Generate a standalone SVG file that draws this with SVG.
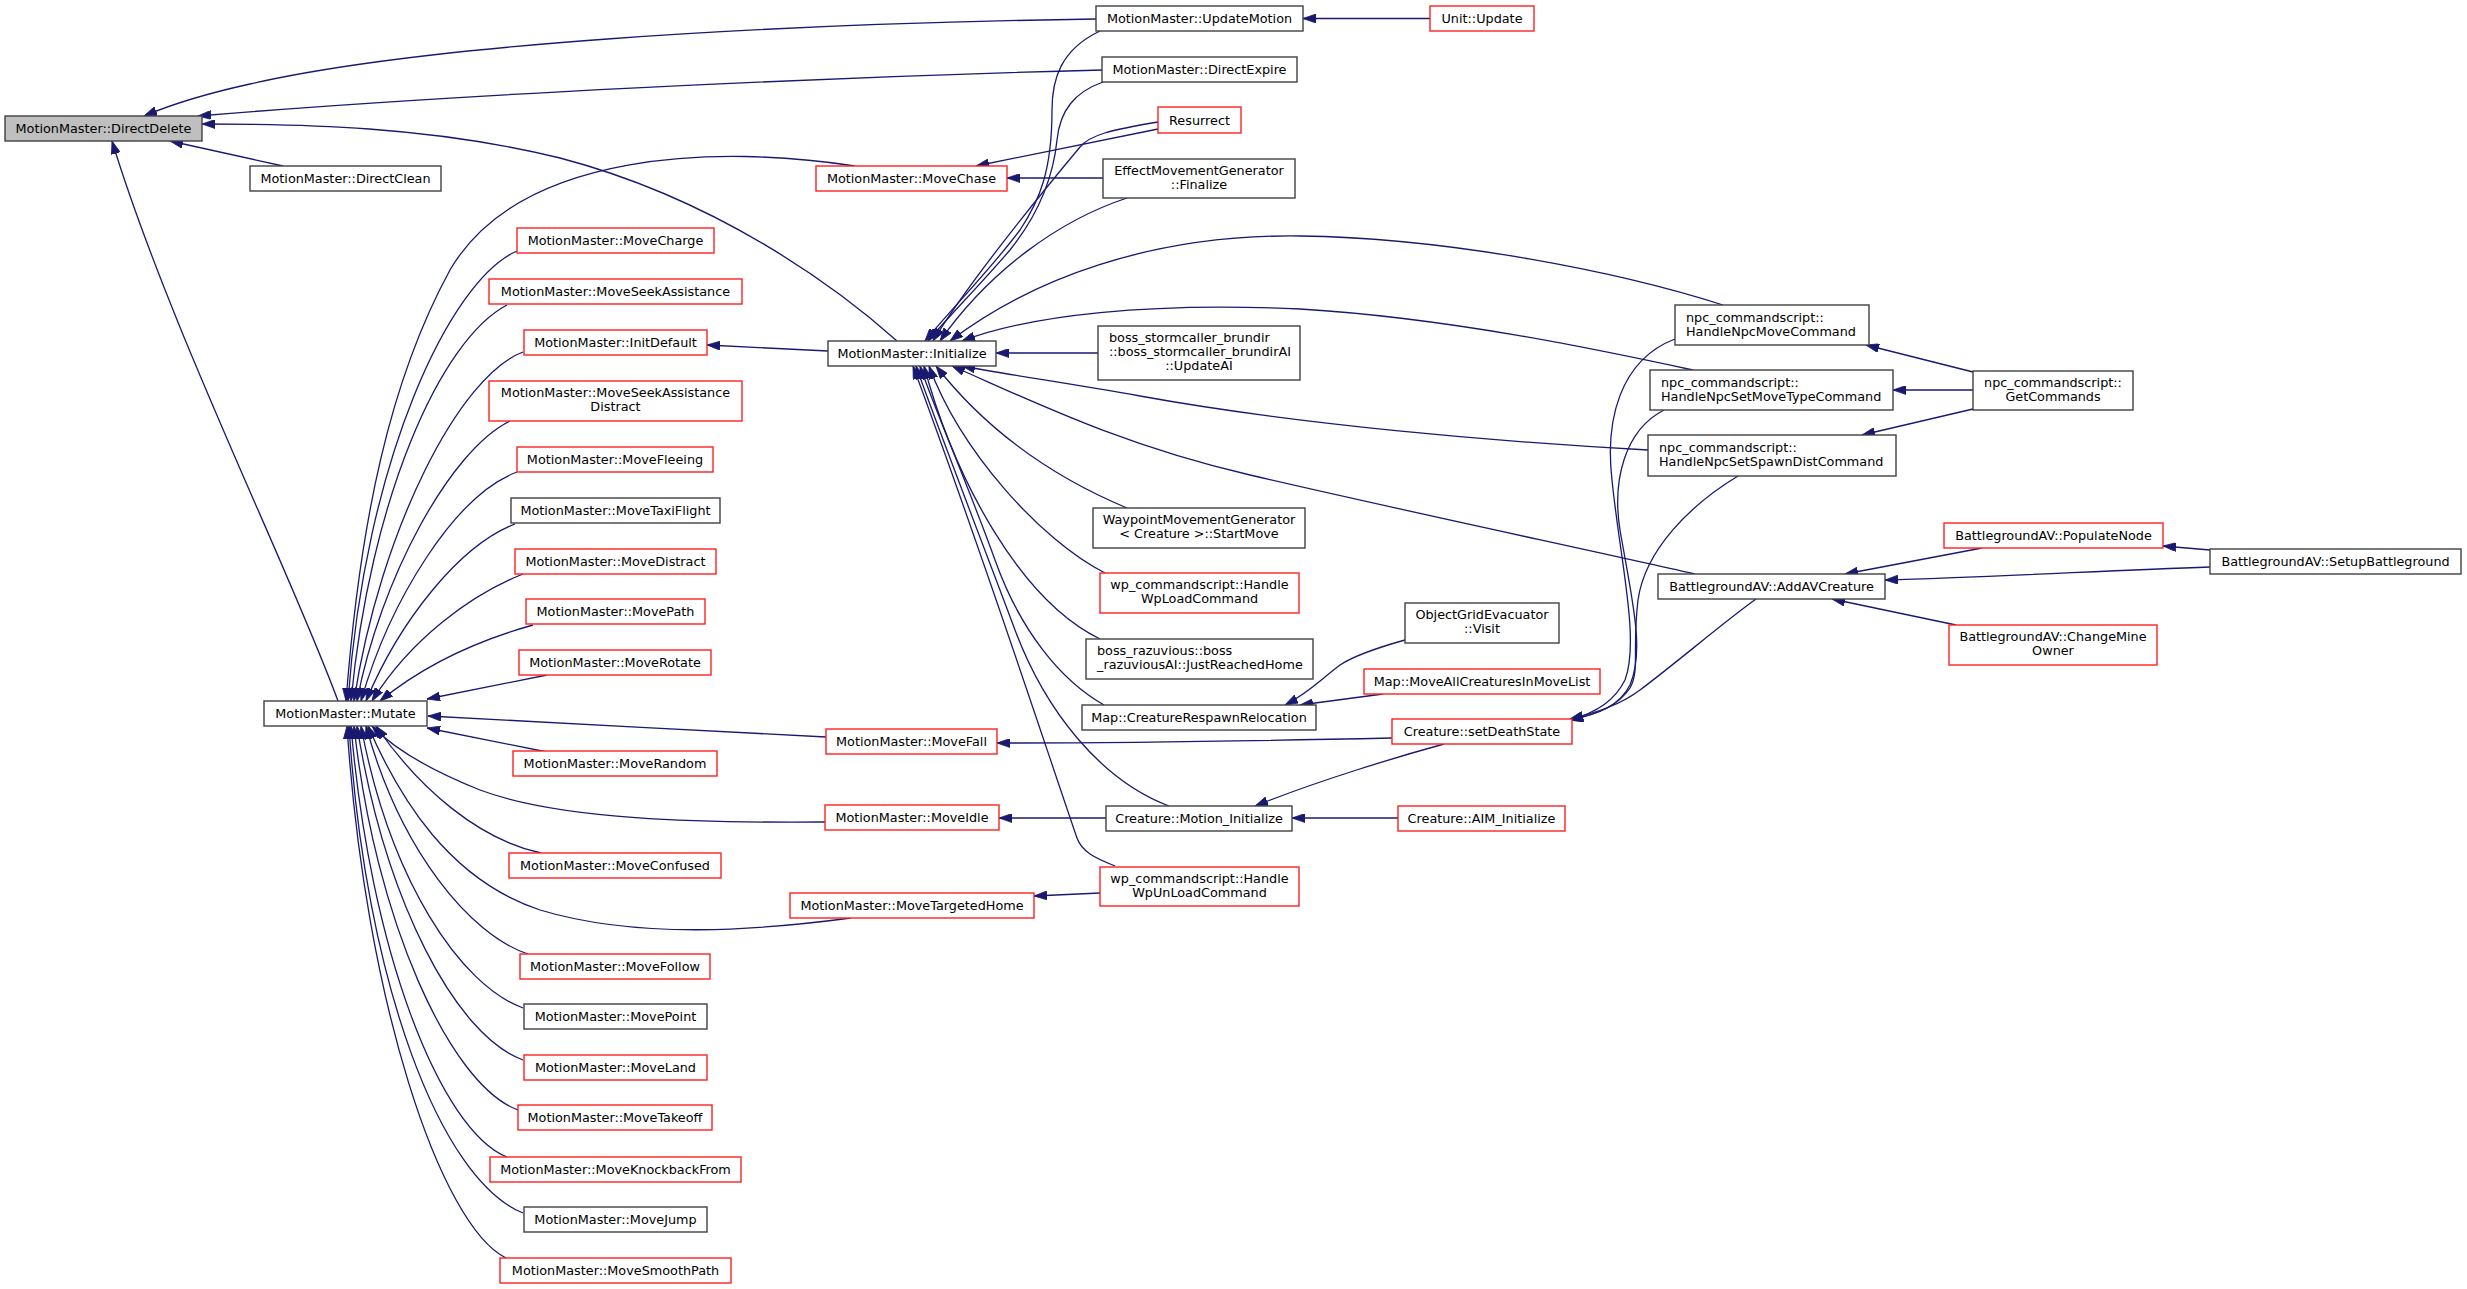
<svg xmlns="http://www.w3.org/2000/svg" width="2467" height="1289" viewBox="0 0 2467 1289">
<style>
.n rect{fill:#ffffff;stroke:#404040;stroke-width:1.4}
.n.r rect{stroke:#ff2020}
.n.g rect{fill:#bfbfbf}
.n text{font-family:"DejaVu Sans",Verdana,sans-serif;font-size:12.8px;fill:#000000}
.m{text-anchor:middle}
.e path{fill:none;stroke:#191970;stroke-width:1.3}
</style>
<defs>
<marker id="a" markerWidth="13" markerHeight="9" refX="13" refY="4.5" orient="auto" markerUnits="userSpaceOnUse">
<path d="M0,0 L13,4.5 L0,9 z" fill="#191970" stroke="#191970" stroke-width="0.8"/>
</marker>
</defs>
<rect x="0" y="0" width="2467" height="1289" fill="#ffffff"/>
<g id="edges" class="e" marker-end="url(#a)">
<path d="M1096,19 C760,24 420,45 250,84 C200,95 170,105 144,116" marker-end="url(#a)"/>
<path d="M1102,70 C800,78 450,95 198,116" marker-end="url(#a)"/>
<path d="M897,341 C840,290 720,200 560,158 C430,126 300,124 202,124" marker-end="url(#a)"/>
<path d="M283,166 L170,141" marker-end="url(#a)"/>
<path d="M338,701 C290,570 170,330 112,141" marker-end="url(#a)"/>
<path d="M1430,18.5 L1303,18.5" marker-end="url(#a)"/>
<path d="M1158,129 L976,166" marker-end="url(#a)"/>
<path d="M1158,122 C1110,130 1090,135 1080,147 C1040,195 970,280 933,341" marker-end="url(#a)"/>
<path d="M1100,31 C1060,50 1052,80 1052,110 C1052,170 1040,200 1020,230 C990,270 955,305 925,341" marker-end="url(#a)"/>
<path d="M1103,82 C1075,92 1060,110 1057,140 C1052,190 1030,225 1010,250 C980,285 950,315 928,341" marker-end="url(#a)"/>
<path d="M1103,178 L1007,178" marker-end="url(#a)"/>
<path d="M1127,198 C1060,220 990,270 940,341" marker-end="url(#a)"/>
<path d="M1723,305 C1620,272 1450,238 1300,236 C1150,234 1030,280 950,341" marker-end="url(#a)"/>
<path d="M1693,370 C1600,350 1450,318 1300,309 C1150,302 1030,315 962,341" marker-end="url(#a)"/>
<path d="M1098,353 L996,353" marker-end="url(#a)"/>
<path d="M1648,450 C1500,442 1300,425 1140,396 C1060,382 1010,375 962,366" marker-end="url(#a)"/>
<path d="M1695,574 C1580,548 1400,510 1250,475 C1120,445 1030,400 952,366" marker-end="url(#a)"/>
<path d="M1127,508 C1060,480 990,435 936,366" marker-end="url(#a)"/>
<path d="M1105,573 C1040,540 960,450 929,366" marker-end="url(#a)"/>
<path d="M1100,639 C1020,600 955,480 924,366" marker-end="url(#a)"/>
<path d="M1104,705 C1060,680 1020,630 995,560 C970,490 935,410 920,366" marker-end="url(#a)"/>
<path d="M1169,806 C1100,780 1045,710 1015,630 C985,550 935,420 916,366" marker-end="url(#a)"/>
<path d="M1115,866 C1095,858 1082,852 1077,838 C1050,760 985,560 913,366" marker-end="url(#a)"/>
<path d="M828,351 L707,345" marker-end="url(#a)"/>
<path d="M855,166 C720,145 520,150 450,270 C390,380 360,520 346,701" marker-end="url(#a)"/>
<path d="M517,251 C450,280 365,460 348,701" marker-end="url(#a)"/>
<path d="M507,305 C440,340 370,500 351,701" marker-end="url(#a)"/>
<path d="M523,352 C460,375 380,530 354,701" marker-end="url(#a)"/>
<path d="M510,421 C450,450 380,580 357,701" marker-end="url(#a)"/>
<path d="M517,472 C455,495 390,600 361,701" marker-end="url(#a)"/>
<path d="M515,524 C460,545 400,620 366,701" marker-end="url(#a)"/>
<path d="M523,574 C470,595 410,640 372,701" marker-end="url(#a)"/>
<path d="M533,625 C490,637 430,660 380,701" marker-end="url(#a)"/>
<path d="M547,675 L427,699" marker-end="url(#a)"/>
<path d="M826,737 C700,731 550,722 428,716" marker-end="url(#a)"/>
<path d="M547,752 L427,728" marker-end="url(#a)"/>
<path d="M825,822 C700,823 560,820 480,790 C430,770 395,750 372,726" marker-end="url(#a)"/>
<path d="M851,918 C760,930 640,940 540,910 C450,880 400,800 368,726" marker-end="url(#a)"/>
<path d="M541,853 C480,840 420,790 376,726" marker-end="url(#a)"/>
<path d="M528,954 C470,935 400,850 366,726" marker-end="url(#a)"/>
<path d="M523,1008 C460,985 390,880 361,726" marker-end="url(#a)"/>
<path d="M523,1060 C455,1035 385,900 357,726" marker-end="url(#a)"/>
<path d="M518,1110 C450,1085 375,920 354,726" marker-end="url(#a)"/>
<path d="M507,1157 C440,1130 370,950 351,726" marker-end="url(#a)"/>
<path d="M523,1213 C440,1180 365,980 349,726" marker-end="url(#a)"/>
<path d="M506,1258 C440,1225 365,1000 347,726" marker-end="url(#a)"/>
<path d="M1383,694 L1300,705" marker-end="url(#a)"/>
<path d="M1405,640 C1380,647 1355,655 1340,665 C1320,680 1310,692 1285,705" marker-end="url(#a)"/>
<path d="M1392,738 C1250,741 1100,743 997,743" marker-end="url(#a)"/>
<path d="M1444,744 C1400,756 1320,780 1255,806" marker-end="url(#a)"/>
<path d="M1398,818 L1292,818" marker-end="url(#a)"/>
<path d="M1106,818 L999,818" marker-end="url(#a)"/>
<path d="M1100,893 L1034,896" marker-end="url(#a)"/>
<path d="M1973,372 L1866,345" marker-end="url(#a)"/>
<path d="M1973,390 L1893,390" marker-end="url(#a)"/>
<path d="M1973,409 L1862,435" marker-end="url(#a)"/>
<path d="M1982,548 L1845,574" marker-end="url(#a)"/>
<path d="M2210,567 C2100,571 1990,577 1885,580" marker-end="url(#a)"/>
<path d="M2210,550 L2163,546" marker-end="url(#a)"/>
<path d="M1956,625 L1832,599" marker-end="url(#a)"/>
<path d="M1675,339 C1620,360 1605,420 1612,480 C1620,560 1640,640 1625,680 C1615,700 1598,712 1570,720" marker-end="url(#a)"/>
<path d="M1664,410 C1625,430 1612,480 1620,530 C1632,600 1645,650 1630,685 C1620,705 1600,714 1570,720" marker-end="url(#a)"/>
<path d="M1738,476 C1690,505 1645,550 1638,600 C1632,650 1640,670 1630,688 C1618,706 1598,714 1570,720" marker-end="url(#a)"/>
<path d="M1756,599 C1720,625 1680,660 1640,690 C1620,705 1598,712 1570,719" marker-end="url(#a)"/>
</g>
<g id="n_DirectDelete" class="n g"><rect x="5" y="116" width="197" height="25"/><text class="m" x="103.5" y="133">MotionMaster::DirectDelete</text></g>
<g id="n_DirectClean" class="n"><rect x="250" y="166" width="191" height="25"/><text class="m" x="345.5" y="183">MotionMaster::DirectClean</text></g>
<g id="n_Mutate" class="n"><rect x="264" y="701" width="163" height="25"/><text class="m" x="345.5" y="718">MotionMaster::Mutate</text></g>
<g id="n_MoveCharge" class="n r"><rect x="517" y="228" width="197" height="25"/><text class="m" x="615.5" y="245">MotionMaster::MoveCharge</text></g>
<g id="n_MoveSeekAssistance" class="n r"><rect x="489" y="279" width="253" height="25"/><text class="m" x="615.5" y="296">MotionMaster::MoveSeekAssistance</text></g>
<g id="n_InitDefault" class="n r"><rect x="524" y="330" width="183" height="25"/><text class="m" x="615.5" y="347">MotionMaster::InitDefault</text></g>
<g id="n_MoveSeekAssistanceDistract" class="n r"><rect x="489" y="381" width="253" height="40"/><text class="m" x="615.5" y="397">MotionMaster::MoveSeekAssistance</text><text class="m" x="615.5" y="411">Distract</text></g>
<g id="n_MoveFleeing" class="n r"><rect x="517" y="447" width="196" height="25"/><text class="m" x="615" y="464">MotionMaster::MoveFleeing</text></g>
<g id="n_MoveTaxiFlight" class="n"><rect x="511" y="498" width="209" height="25"/><text class="m" x="615.5" y="515">MotionMaster::MoveTaxiFlight</text></g>
<g id="n_MoveDistract" class="n r"><rect x="515" y="549" width="201" height="25"/><text class="m" x="615.5" y="566">MotionMaster::MoveDistract</text></g>
<g id="n_MovePath" class="n r"><rect x="526" y="599" width="179" height="25"/><text class="m" x="615.5" y="616">MotionMaster::MovePath</text></g>
<g id="n_MoveRotate" class="n r"><rect x="519" y="650" width="192" height="25"/><text class="m" x="615" y="667">MotionMaster::MoveRotate</text></g>
<g id="n_MoveRandom" class="n r"><rect x="513" y="751" width="204" height="25"/><text class="m" x="615" y="768">MotionMaster::MoveRandom</text></g>
<g id="n_MoveConfused" class="n r"><rect x="509" y="853" width="212" height="25"/><text class="m" x="615" y="870">MotionMaster::MoveConfused</text></g>
<g id="n_MoveFollow" class="n r"><rect x="520" y="954" width="190" height="25"/><text class="m" x="615" y="971">MotionMaster::MoveFollow</text></g>
<g id="n_MovePoint" class="n"><rect x="524" y="1004" width="183" height="25"/><text class="m" x="615.5" y="1021">MotionMaster::MovePoint</text></g>
<g id="n_MoveLand" class="n r"><rect x="524" y="1055" width="183" height="25"/><text class="m" x="615.5" y="1072">MotionMaster::MoveLand</text></g>
<g id="n_MoveTakeoff" class="n r"><rect x="518" y="1105" width="194" height="25"/><text class="m" x="615" y="1122">MotionMaster::MoveTakeoff</text></g>
<g id="n_MoveKnockbackFrom" class="n r"><rect x="490" y="1157" width="251" height="25"/><text class="m" x="615.5" y="1174">MotionMaster::MoveKnockbackFrom</text></g>
<g id="n_MoveJump" class="n"><rect x="524" y="1207" width="183" height="25"/><text class="m" x="615.5" y="1224">MotionMaster::MoveJump</text></g>
<g id="n_MoveSmoothPath" class="n r"><rect x="500" y="1258" width="231" height="25"/><text class="m" x="615.5" y="1275">MotionMaster::MoveSmoothPath</text></g>
<g id="n_MoveChase" class="n r"><rect x="816" y="166" width="191" height="25"/><text class="m" x="911.5" y="183">MotionMaster::MoveChase</text></g>
<g id="n_Initialize" class="n"><rect x="828" y="341" width="168" height="25"/><text class="m" x="912" y="358">MotionMaster::Initialize</text></g>
<g id="n_MoveFall" class="n r"><rect x="826" y="729" width="171" height="25"/><text class="m" x="911.5" y="746">MotionMaster::MoveFall</text></g>
<g id="n_MoveIdle" class="n r"><rect x="825" y="805" width="174" height="25"/><text class="m" x="912" y="822">MotionMaster::MoveIdle</text></g>
<g id="n_MoveTargetedHome" class="n r"><rect x="790" y="893" width="244" height="25"/><text class="m" x="912" y="910">MotionMaster::MoveTargetedHome</text></g>
<g id="n_UpdateMotion" class="n"><rect x="1096" y="6" width="207" height="25"/><text class="m" x="1199.5" y="23">MotionMaster::UpdateMotion</text></g>
<g id="n_DirectExpire" class="n"><rect x="1102" y="57" width="195" height="25"/><text class="m" x="1199.5" y="74">MotionMaster::DirectExpire</text></g>
<g id="n_Resurrect" class="n r"><rect x="1158" y="107" width="83" height="26"/><text class="m" x="1199.5" y="124.5">Resurrect</text></g>
<g id="n_Finalize" class="n"><rect x="1103" y="159" width="192" height="39"/><text class="m" x="1199" y="175">EffectMovementGenerator</text><text class="m" x="1199" y="189">::Finalize</text></g>
<g id="n_UpdateAI" class="n"><rect x="1098" y="326" width="202" height="54"/><text x="1109" y="342">boss_stormcaller_brundir</text><text x="1109" y="356">::boss_stormcaller_brundirAI</text><text class="m" x="1199" y="370">::UpdateAI</text></g>
<g id="n_StartMove" class="n"><rect x="1093" y="508" width="212" height="40"/><text class="m" x="1199" y="524">WaypointMovementGenerator</text><text class="m" x="1199" y="538">&lt; Creature &gt;::StartMove</text></g>
<g id="n_WpLoad" class="n r"><rect x="1100" y="573" width="199" height="40"/><text class="m" x="1199.5" y="589">wp_commandscript::Handle</text><text class="m" x="1199.5" y="603">WpLoadCommand</text></g>
<g id="n_JustReachedHome" class="n"><rect x="1086" y="639" width="227" height="40"/><text x="1097" y="655">boss_razuvious::boss</text><text x="1097" y="669">_razuviousAI::JustReachedHome</text></g>
<g id="n_CreatureRespawnRelocation" class="n"><rect x="1082" y="705" width="234" height="25"/><text class="m" x="1199" y="722">Map::CreatureRespawnRelocation</text></g>
<g id="n_Motion_Initialize" class="n"><rect x="1106" y="806" width="186" height="25"/><text class="m" x="1199" y="823">Creature::Motion_Initialize</text></g>
<g id="n_WpUnLoad" class="n r"><rect x="1100" y="867" width="199" height="39"/><text class="m" x="1199.5" y="883">wp_commandscript::Handle</text><text class="m" x="1199.5" y="897">WpUnLoadCommand</text></g>
<g id="n_UnitUpdate" class="n r"><rect x="1430" y="6" width="104" height="25"/><text class="m" x="1482" y="23">Unit::Update</text></g>
<g id="n_Visit" class="n"><rect x="1405" y="603" width="154" height="40"/><text class="m" x="1482" y="619">ObjectGridEvacuator</text><text class="m" x="1482" y="633">::Visit</text></g>
<g id="n_MoveAllCreaturesInMoveList" class="n r"><rect x="1364" y="669" width="236" height="25"/><text class="m" x="1482" y="686">Map::MoveAllCreaturesInMoveList</text></g>
<g id="n_setDeathState" class="n r"><rect x="1392" y="719" width="180" height="25"/><text class="m" x="1482" y="736">Creature::setDeathState</text></g>
<g id="n_AIM_Initialize" class="n r"><rect x="1398" y="806" width="167" height="25"/><text class="m" x="1481.5" y="823">Creature::AIM_Initialize</text></g>
<g id="n_HandleNpcMoveCommand" class="n"><rect x="1675" y="305" width="194" height="40"/><text x="1686" y="321.5">npc_commandscript::</text><text x="1686" y="335.5">HandleNpcMoveCommand</text></g>
<g id="n_HandleNpcSetMoveTypeCommand" class="n"><rect x="1650" y="370" width="243" height="40"/><text x="1661" y="386.5">npc_commandscript::</text><text x="1661" y="400.5">HandleNpcSetMoveTypeCommand</text></g>
<g id="n_HandleNpcSetSpawnDistCommand" class="n"><rect x="1648" y="435" width="248" height="41"/><text x="1659" y="451.5">npc_commandscript::</text><text x="1659" y="465.5">HandleNpcSetSpawnDistCommand</text></g>
<g id="n_AddAVCreature" class="n"><rect x="1658" y="574" width="227" height="25"/><text class="m" x="1771.5" y="591">BattlegroundAV::AddAVCreature</text></g>
<g id="n_GetCommands" class="n"><rect x="1973" y="371" width="160" height="39"/><text class="m" x="2053" y="387">npc_commandscript::</text><text class="m" x="2053" y="401">GetCommands</text></g>
<g id="n_PopulateNode" class="n r"><rect x="1944" y="523" width="219" height="25"/><text class="m" x="2053.5" y="540">BattlegroundAV::PopulateNode</text></g>
<g id="n_ChangeMineOwner" class="n r"><rect x="1949" y="625" width="208" height="40"/><text class="m" x="2053" y="641">BattlegroundAV::ChangeMine</text><text class="m" x="2053" y="655">Owner</text></g>
<g id="n_SetupBattleground" class="n"><rect x="2210" y="549" width="251" height="25"/><text class="m" x="2335.5" y="566">BattlegroundAV::SetupBattleground</text></g>
</svg>
